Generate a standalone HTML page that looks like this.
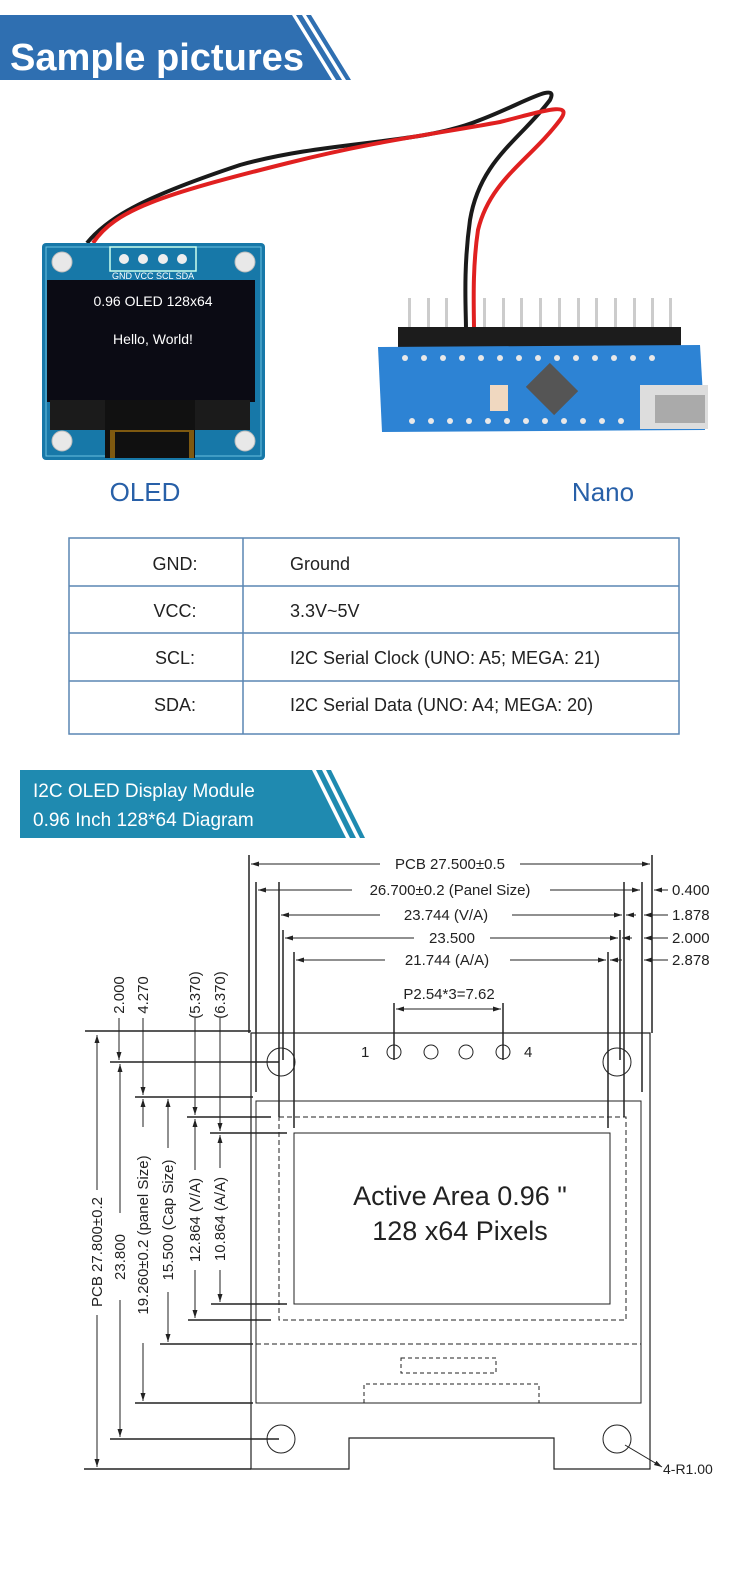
<!DOCTYPE html>
<html><head><meta charset="utf-8"><style>
html,body{margin:0;padding:0;background:#fff;}
svg{display:block;}
text{font-family:"Liberation Sans",Arial,sans-serif;}
</style></head><body>
<svg width="750" height="1575" viewBox="0 0 750 1575" xmlns="http://www.w3.org/2000/svg">
<defs>
<marker id="a" markerWidth="8" markerHeight="6" refX="8" refY="3" orient="auto" markerUnits="userSpaceOnUse"><path d="M0,0.5 L8,3 L0,5.5 z" fill="#222"/></marker>
<marker id="b" markerWidth="8" markerHeight="6" refX="0" refY="3" orient="auto" markerUnits="userSpaceOnUse"><path d="M8,0.5 L0,3 L8,5.5 z" fill="#222"/></marker>
</defs>
<rect width="750" height="1575" fill="#fff"/>

<!-- Banner 1 -->
<polygon points="0,15 292,15 332,80 0,80" fill="#2f6fb1"/>
<polygon points="296,15 302,15 342,80 336,80" fill="#2f6fb1"/>
<polygon points="306,15 311,15 351,80 346,80" fill="#2f6fb1"/>
<text x="10" y="70" font-size="38" font-weight="bold" fill="#fff" textLength="294" lengthAdjust="spacingAndGlyphs">Sample pictures</text>

<!-- wires -->
<path d="M87,243 C110,215 150,195 240,165 C330,140 420,145 480,120 C520,105 560,80 550,100 C520,140 480,160 470,220 C463,270 466,310 466,330" fill="none" stroke="#1a1a1a" stroke-width="4"/>
<path d="M93,243 C115,210 160,195 288,163 C380,140 430,135 500,122 C540,112 575,100 560,120 C530,160 490,180 478,230 C472,270 474,310 474,330" fill="none" stroke="#e02020" stroke-width="4"/>

<!-- OLED board -->
<rect x="42" y="243" width="223" height="217" rx="4" fill="#1778a8"/>
<rect x="46" y="247" width="215" height="209" fill="none" stroke="#6ac0e0" stroke-width="1"/>
<circle cx="62" cy="262" r="10" fill="#e8e8e8" stroke="#bbb"/>
<circle cx="245" cy="262" r="10" fill="#e8e8e8" stroke="#bbb"/>
<circle cx="62" cy="441" r="10" fill="#e8e8e8" stroke="#bbb"/>
<circle cx="245" cy="441" r="10" fill="#e8e8e8" stroke="#bbb"/>
<rect x="110" y="247" width="86" height="24" fill="none" stroke="#cfe" stroke-width="1.5"/>
<circle cx="124" cy="259" r="5" fill="#eee"/><circle cx="143" cy="259" r="5" fill="#eee"/><circle cx="163" cy="259" r="5" fill="#eee"/><circle cx="182" cy="259" r="5" fill="#eee"/>
<text x="112" y="279" font-size="9" fill="#fff">GND VCC SCL SDA</text>
<rect x="47" y="280" width="208" height="122" fill="#0b0b14"/>
<rect x="50" y="400" width="200" height="30" fill="#1b1b1b"/>
<rect x="105" y="400" width="90" height="58" fill="#111"/>
<rect x="110" y="430" width="84" height="28" fill="#c88a10" opacity="0.6"/>
<rect x="115" y="432" width="74" height="26" fill="#101010"/>
<text x="153" y="306" font-size="14" fill="#fff" text-anchor="middle" font-family="Liberation Mono, monospace">0.96 OLED 128x64</text>
<text x="153" y="344" font-size="14" fill="#fff" text-anchor="middle" font-family="Liberation Mono, monospace">Hello, World!</text>

<!-- Nano -->
<g fill="#ccc">
<rect x="408" y="298" width="3" height="30"/><rect x="427" y="298" width="3" height="30"/><rect x="445" y="298" width="3" height="30"/><rect x="483" y="298" width="3" height="30"/><rect x="502" y="298" width="3" height="30"/><rect x="520" y="298" width="3" height="30"/><rect x="539" y="298" width="3" height="30"/><rect x="558" y="298" width="3" height="30"/><rect x="577" y="298" width="3" height="30"/><rect x="595" y="298" width="3" height="30"/><rect x="614" y="298" width="3" height="30"/><rect x="633" y="298" width="3" height="30"/><rect x="651" y="298" width="3" height="30"/><rect x="669" y="298" width="3" height="30"/>
</g>
<rect x="398" y="327" width="283" height="20" fill="#1c1c1c"/>
<polygon points="378,347 700,345 705,430 382,432" fill="#2d83d4"/>
<g fill="#e8e8e8">
<circle cx="405" cy="358" r="3"/><circle cx="424" cy="358" r="3"/><circle cx="443" cy="358" r="3"/><circle cx="462" cy="358" r="3"/><circle cx="481" cy="358" r="3"/><circle cx="500" cy="358" r="3"/><circle cx="519" cy="358" r="3"/><circle cx="538" cy="358" r="3"/><circle cx="557" cy="358" r="3"/><circle cx="576" cy="358" r="3"/><circle cx="595" cy="358" r="3"/><circle cx="614" cy="358" r="3"/><circle cx="633" cy="358" r="3"/><circle cx="652" cy="358" r="3"/>
<circle cx="412" cy="421" r="3"/><circle cx="431" cy="421" r="3"/><circle cx="450" cy="421" r="3"/><circle cx="469" cy="421" r="3"/><circle cx="488" cy="421" r="3"/><circle cx="507" cy="421" r="3"/><circle cx="526" cy="421" r="3"/><circle cx="545" cy="421" r="3"/><circle cx="564" cy="421" r="3"/><circle cx="583" cy="421" r="3"/><circle cx="602" cy="421" r="3"/><circle cx="621" cy="421" r="3"/>
</g>
<rect x="532" y="372" width="40" height="34" fill="#555" transform="rotate(45 552 389)"/>
<rect x="490" y="385" width="18" height="26" fill="#f0d8c0"/>
<rect x="640" y="385" width="68" height="44" fill="#ddd"/>
<rect x="655" y="395" width="50" height="28" fill="#aaa"/>

<text x="145" y="501" font-size="26" fill="#2860a8" text-anchor="middle">OLED</text>
<text x="603" y="501" font-size="26" fill="#2860a8" text-anchor="middle">Nano</text>

<!-- Table -->
<g stroke="#5a86b4" stroke-width="1.5" fill="none">
<rect x="69" y="538" width="610" height="196"/>
<line x1="69" y1="586" x2="679" y2="586"/><line x1="69" y1="633" x2="679" y2="633"/><line x1="69" y1="681" x2="679" y2="681"/>
<line x1="243" y1="538" x2="243" y2="734"/>
</g>
<g font-size="18" fill="#222">
<text x="175" y="570" text-anchor="middle">GND:</text><text x="290" y="570">Ground</text>
<text x="175" y="617" text-anchor="middle">VCC:</text><text x="290" y="617">3.3V~5V</text>
<text x="175" y="664" text-anchor="middle">SCL:</text><text x="290" y="664">I2C Serial Clock (UNO: A5; MEGA: 21)</text>
<text x="175" y="711" text-anchor="middle">SDA:</text><text x="290" y="711">I2C Serial Data (UNO: A4; MEGA: 20)</text>
</g>

<!-- Banner 2 -->
<polygon points="20,770 312,770 346,838 20,838" fill="#1f8ab0"/>
<polygon points="316,770 322,770 356,838 350,838" fill="#1f8ab0"/>
<polygon points="326,770 331,770 365,838 360,838" fill="#1f8ab0"/>
<text x="33" y="797" font-size="19" fill="#fff">I2C OLED Display Module</text>
<text x="33" y="826" font-size="19" fill="#fff">0.96 Inch 128*64 Diagram</text>

<!-- Diagram -->
<g stroke="#222" stroke-width="1" fill="none">
<path d="M251,1033 L650,1033 L650,1469 L554,1469 L554,1438 L349,1438 L349,1469 L251,1469 Z" stroke-width="1.2"/>
<rect x="256" y="1101" width="385" height="302"/>
<rect x="279" y="1117" width="347" height="203" stroke-dasharray="5,3"/>
<rect x="294" y="1133" width="316" height="171"/>
<line x1="256" y1="1344" x2="641" y2="1344" stroke-dasharray="5,3"/>
<rect x="401" y="1358" width="95" height="15" stroke-dasharray="4,3"/>
<path d="M364,1403 L364,1384 L539,1384 L539,1403" stroke-dasharray="4,3"/>
<circle cx="281" cy="1062" r="14"/><circle cx="617" cy="1062" r="14"/>
<circle cx="281" cy="1439" r="14"/><circle cx="617" cy="1439" r="14"/>
<circle cx="394" cy="1052" r="7"/><circle cx="431" cy="1052" r="7"/><circle cx="466" cy="1052" r="7"/><circle cx="503" cy="1052" r="7"/>

<line x1="249" y1="855" x2="249" y2="1033" stroke-width="1.5"/>
<line x1="652" y1="855" x2="652" y2="1033" stroke-width="1.5"/>
<line x1="256" y1="882" x2="256" y2="1092" stroke-width="1.5"/>
<line x1="642" y1="882" x2="642" y2="1092" stroke-width="1.5"/>
<line x1="279" y1="882" x2="279" y2="1117" stroke-width="1.5"/>
<line x1="624" y1="882" x2="624" y2="1117" stroke-width="1.5"/>
<line x1="283" y1="930" x2="283" y2="1060" stroke-width="1.5"/>
<line x1="620" y1="930" x2="620" y2="1060" stroke-width="1.5"/>
<line x1="294" y1="952" x2="294" y2="1128" stroke-width="1.5"/>
<line x1="608" y1="952" x2="608" y2="1128" stroke-width="1.5"/>
<line x1="394" y1="1003" x2="394" y2="1060" stroke-width="1.5"/>
<line x1="503" y1="1003" x2="503" y2="1060" stroke-width="1.5"/>

<line x1="251" y1="864" x2="380" y2="864" marker-start="url(#b)"/>
<line x1="520" y1="864" x2="650" y2="864" marker-end="url(#a)"/>
<line x1="258" y1="890" x2="352" y2="890" marker-start="url(#b)"/>
<line x1="550" y1="890" x2="640" y2="890" marker-end="url(#a)"/>
<line x1="281" y1="915" x2="380" y2="915" marker-start="url(#b)"/>
<line x1="512" y1="915" x2="622" y2="915" marker-end="url(#a)"/>
<line x1="285" y1="938" x2="414" y2="938" marker-start="url(#b)"/>
<line x1="490" y1="938" x2="618" y2="938" marker-end="url(#a)"/>
<line x1="296" y1="960" x2="385" y2="960" marker-start="url(#b)"/>
<line x1="510" y1="960" x2="606" y2="960" marker-end="url(#a)"/>
<line x1="396" y1="1009" x2="501" y2="1009" marker-start="url(#b)" marker-end="url(#a)"/>
<line x1="668" y1="890" x2="654" y2="890" marker-end="url(#a)"/>
<line x1="668" y1="915" x2="644" y2="915" marker-end="url(#a)"/>
<line x1="636" y1="915" x2="626" y2="915" marker-end="url(#a)"/>
<line x1="668" y1="938" x2="644" y2="938" marker-end="url(#a)"/>
<line x1="632" y1="938" x2="622" y2="938" marker-end="url(#a)"/>
<line x1="668" y1="960" x2="644" y2="960" marker-end="url(#a)"/>
<line x1="622" y1="960" x2="610" y2="960" marker-end="url(#a)"/>

<line x1="85" y1="1031" x2="251" y2="1031" stroke-width="1.5"/>
<line x1="110" y1="1062" x2="279" y2="1062" stroke-width="1.5"/>
<line x1="135" y1="1097" x2="253" y2="1097" stroke-width="1.5"/>
<line x1="187" y1="1117" x2="271" y2="1117" stroke-width="1.5"/>
<line x1="210" y1="1133" x2="287" y2="1133" stroke-width="1.5"/>
<line x1="211" y1="1304" x2="287" y2="1304" stroke-width="1.5"/>
<line x1="188" y1="1320" x2="271" y2="1320" stroke-width="1.5"/>
<line x1="160" y1="1344" x2="253" y2="1344" stroke-width="1.5"/>
<line x1="135" y1="1403" x2="253" y2="1403" stroke-width="1.5"/>
<line x1="110" y1="1439" x2="279" y2="1439" stroke-width="1.5"/>
<line x1="84" y1="1469" x2="251" y2="1469" stroke-width="1.5"/>

<line x1="119" y1="1018" x2="119" y2="1060" marker-end="url(#a)"/>
<line x1="143" y1="1018" x2="143" y2="1095" marker-end="url(#a)"/>
<line x1="195" y1="1018" x2="195" y2="1115" marker-end="url(#a)"/>
<line x1="220" y1="1018" x2="220" y2="1131" marker-end="url(#a)"/>

<line x1="97" y1="1035" x2="97" y2="1190" marker-start="url(#b)"/>
<line x1="97" y1="1315" x2="97" y2="1467" marker-end="url(#a)" />
<line x1="120" y1="1064" x2="120" y2="1213" marker-start="url(#b)"/>
<line x1="120" y1="1300" x2="120" y2="1437" marker-end="url(#a)"/>
<line x1="143" y1="1099" x2="143" y2="1127" marker-start="url(#b)"/>
<line x1="143" y1="1343" x2="143" y2="1401" marker-end="url(#a)"/>
<line x1="168" y1="1099" x2="168" y2="1148" marker-start="url(#b)"/>
<line x1="168" y1="1292" x2="168" y2="1342" marker-end="url(#a)"/>
<line x1="195" y1="1119" x2="195" y2="1170" marker-start="url(#b)"/>
<line x1="195" y1="1270" x2="195" y2="1318" marker-end="url(#a)"/>
<line x1="220" y1="1135" x2="220" y2="1168" marker-start="url(#b)"/>
<line x1="220" y1="1270" x2="220" y2="1302" marker-end="url(#a)"/>

<line x1="625" y1="1445" x2="662" y2="1467" marker-end="url(#a)"/>
</g>

<g font-size="15" fill="#222">
<text x="450" y="869" text-anchor="middle">PCB 27.500±0.5</text>
<text x="450" y="895" text-anchor="middle">26.700±0.2 (Panel Size)</text>
<text x="446" y="920" text-anchor="middle">23.744 (V/A)</text>
<text x="452" y="943" text-anchor="middle">23.500</text>
<text x="447" y="965" text-anchor="middle">21.744 (A/A)</text>
<text x="672" y="895">0.400</text>
<text x="672" y="920">1.878</text>
<text x="672" y="943">2.000</text>
<text x="672" y="965">2.878</text>
<text x="449" y="999" text-anchor="middle">P2.54*3=7.62</text>
<text x="361" y="1057">1</text>
<text x="524" y="1057">4</text>
<text x="663" y="1474" font-size="14">4-R1.00</text>
<g text-anchor="middle">
<text transform="translate(124,995) rotate(-90)">2.000</text>
<text transform="translate(148,995) rotate(-90)">4.270</text>
<text transform="translate(200,995) rotate(-90)">(5.370)</text>
<text transform="translate(225,995) rotate(-90)">(6.370)</text>
<text transform="translate(102,1252) rotate(-90)">PCB 27.800±0.2</text>
<text transform="translate(125,1257) rotate(-90)">23.800</text>
<text transform="translate(148,1235) rotate(-90)">19.260±0.2 (panel Size)</text>
<text transform="translate(173,1220) rotate(-90)">15.500 (Cap Size)</text>
<text transform="translate(200,1220) rotate(-90)">12.864 (V/A)</text>
<text transform="translate(225,1219) rotate(-90)">10.864 (A/A)</text>
</g>
<text x="460" y="1205" font-size="27" text-anchor="middle">Active Area 0.96 "</text>
<text x="460" y="1240" font-size="27" text-anchor="middle">128 x64 Pixels</text>
</g>
</svg>
</body></html>
